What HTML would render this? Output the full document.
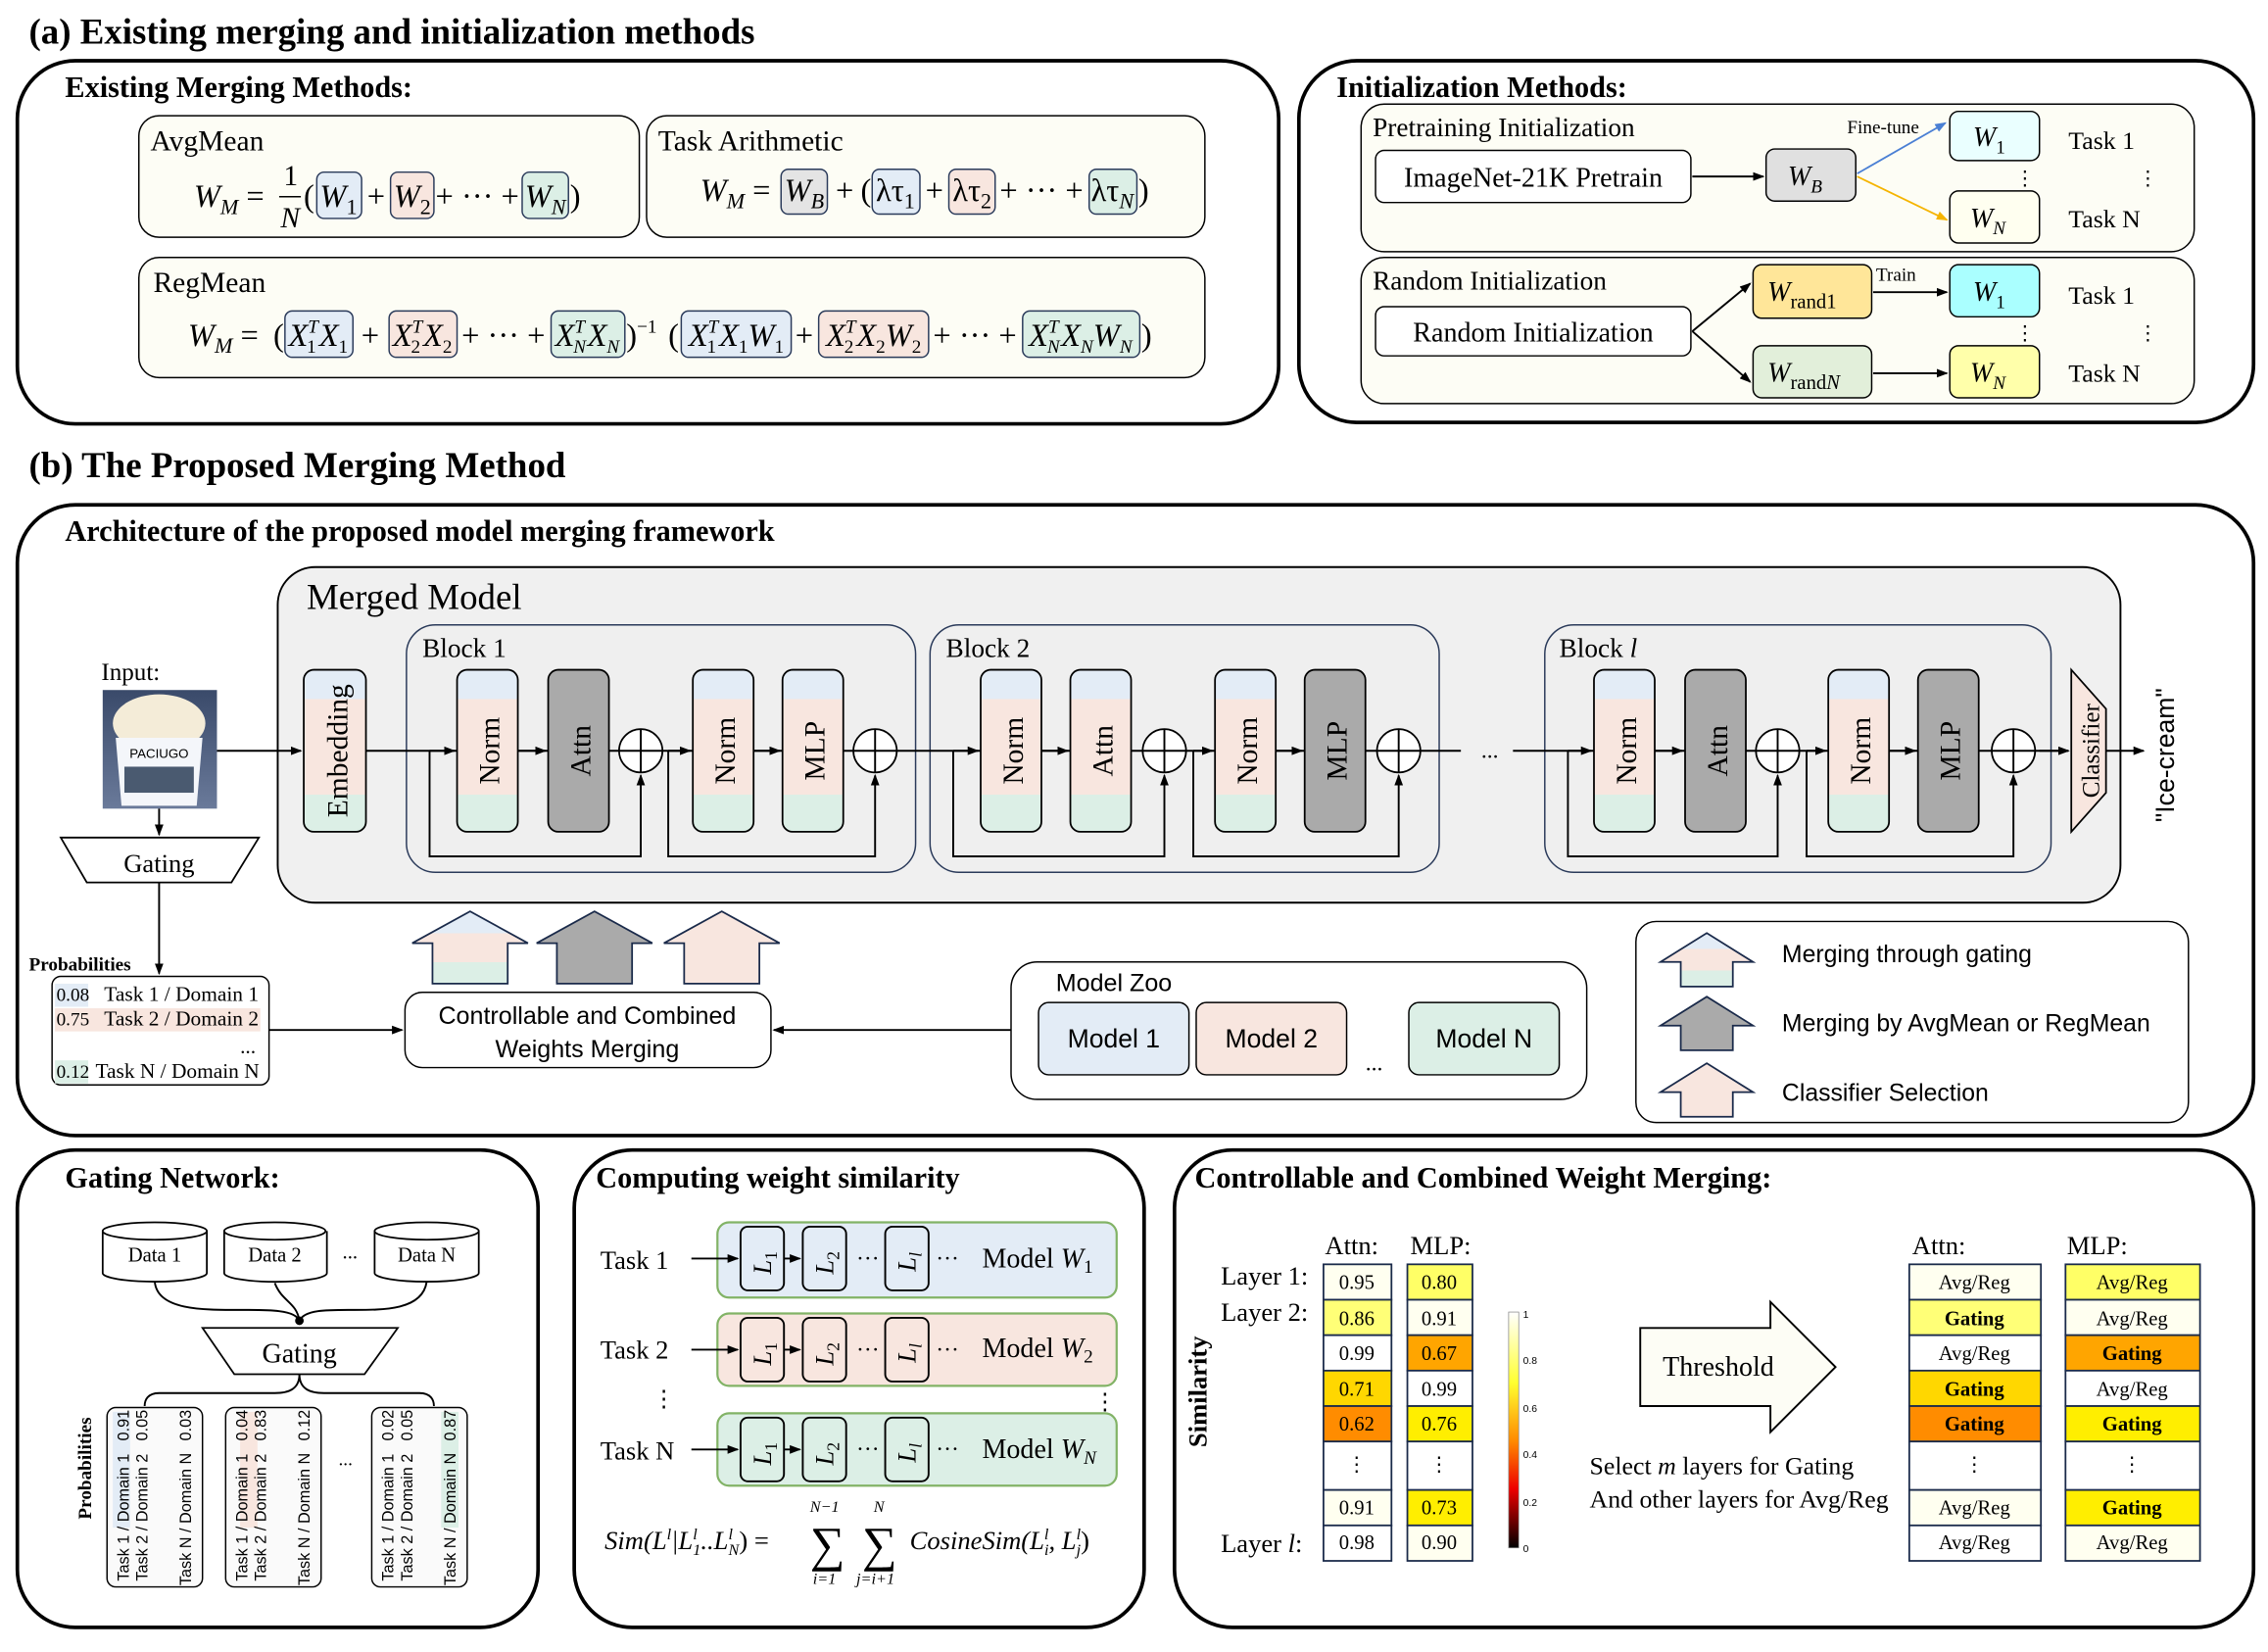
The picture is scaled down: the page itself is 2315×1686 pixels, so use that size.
<!DOCTYPE html>
<html><head><meta charset="utf-8"><style>
html,body{margin:0;padding:0;background:#fff;width:2315px;height:1686px;overflow:hidden}
svg{display:block}
text{font-family:"Liberation Serif",serif;fill:#000}
.b,.b text{font-weight:bold}
.i{font-style:italic}
text.s,.s text{font-family:"Liberation Sans",sans-serif}
.ln{stroke:#000;stroke-width:1.3;fill:none}
</style></head><body>
<svg width="2315" height="1686" viewBox="0 0 1568 1142" preserveAspectRatio="none" xmlns="http://www.w3.org/2000/svg">
<defs>
<marker id="ar" markerWidth="8" markerHeight="8" refX="7" refY="4" orient="auto" markerUnits="userSpaceOnUse"><path d="M0,1 L8,4 L0,7z" fill="#000"/></marker>
<marker id="arb" markerWidth="8" markerHeight="8" refX="7" refY="4" orient="auto" markerUnits="userSpaceOnUse"><path d="M0,1 L8,4 L0,7z" fill="#4a7fd4"/></marker>
<marker id="aro" markerWidth="8" markerHeight="8" refX="7" refY="4" orient="auto" markerUnits="userSpaceOnUse"><path d="M0,1 L8,4 L0,7z" fill="#f5b400"/></marker>
<linearGradient id="tri" x1="0" y1="0" x2="0" y2="1">
<stop offset="0" stop-color="#e3ecf6"/><stop offset="0.18" stop-color="#e3ecf6"/><stop offset="0.18" stop-color="#f8e6df"/><stop offset="0.77" stop-color="#f8e6df"/><stop offset="0.77" stop-color="#dcefe6"/><stop offset="1" stop-color="#dcefe6"/></linearGradient>
<linearGradient id="tri2" x1="0" y1="0" x2="0" y2="1">
<stop offset="0" stop-color="#e3ecf6"/><stop offset="0.3" stop-color="#e3ecf6"/><stop offset="0.3" stop-color="#f8e6df"/><stop offset="0.7" stop-color="#f8e6df"/><stop offset="0.7" stop-color="#dcefe6"/><stop offset="1" stop-color="#dcefe6"/></linearGradient>
<linearGradient id="cb" x1="0" y1="0" x2="0" y2="1">
<stop offset="0" stop-color="#ffffff"/><stop offset="0.3" stop-color="#ffff30"/><stop offset="0.55" stop-color="#ff8800"/><stop offset="0.75" stop-color="#ee0000"/><stop offset="1" stop-color="#000"/></linearGradient>
<linearGradient id="img" x1="0" y1="0" x2="0" y2="1"><stop offset="0" stop-color="#3a4a6a"/><stop offset="1" stop-color="#6a7a9a"/></linearGradient>
</defs>

<!-- (a) -->
<text x="20" y="30" class="b" font-size="25">(a) Existing merging and initialization methods</text>
<rect x="12" y="42" width="872" height="251" rx="40" fill="#fff" stroke="#000" stroke-width="2.5"/>
<text x="45" y="67" class="b" font-size="20.5">Existing Merging Methods:</text>
<rect x="96" y="80" width="346" height="84" rx="14" fill="#fdfdf5" stroke="#000"/>
<text x="104" y="104" font-size="20">AvgMean</text>
<rect x="447" y="80" width="386" height="84" rx="14" fill="#fdfdf5" stroke="#000"/>
<text x="455" y="104" font-size="20">Task Arithmetic</text>
<rect x="96" y="178" width="737" height="83" rx="14" fill="#fdfdf5" stroke="#000"/>
<text x="106" y="202" font-size="20">RegMean</text>
<!-- AvgMean formula -->
<rect x="219" y="119" width="31" height="32" rx="5" fill="#e3ecf6" stroke="#2a3a5a"/>
<rect x="270" y="119" width="30" height="32" rx="5" fill="#f8e6df" stroke="#2a3a5a"/>
<rect x="361" y="119" width="32" height="32" rx="5" fill="#dcefe6" stroke="#2a3a5a"/>
<g font-size="22">
<text x="134" y="143"><tspan class="i">W</tspan><tspan class="i" font-size="15" dy="5">M</tspan><tspan dy="-5"> =</tspan></text>
<text x="196" y="128" font-size="20">1</text><line x1="193" y1="136" x2="208" y2="136" stroke="#000"/><text x="194" y="157" font-size="20" class="i">N</text>
<text x="210" y="143">(</text>
<text x="234" y="143" text-anchor="middle"><tspan class="i">W</tspan><tspan font-size="15" dy="5">1</tspan></text>
<text x="260" y="143" text-anchor="middle">+</text>
<text x="285" y="143" text-anchor="middle"><tspan class="i">W</tspan><tspan font-size="15" dy="5">2</tspan></text>
<text x="330" y="143" text-anchor="middle">+ ··· +</text>
<text x="377" y="143" text-anchor="middle"><tspan class="i">W</tspan><tspan font-size="15" class="i" dy="5">N</tspan></text>
<text x="394" y="143">)</text>
</g>
<!-- Task arithmetic formula -->
<rect x="540" y="117" width="32" height="31" rx="5" fill="#e4e4e4" stroke="#2a3a5a"/>
<rect x="603" y="117" width="33" height="31" rx="5" fill="#e3ecf6" stroke="#2a3a5a"/>
<rect x="656" y="117" width="32" height="31" rx="5" fill="#f8e6df" stroke="#2a3a5a"/>
<rect x="753" y="117" width="33" height="31" rx="5" fill="#dcefe6" stroke="#2a3a5a"/>
<g font-size="22">
<text x="484" y="139"><tspan class="i">W</tspan><tspan class="i" font-size="15" dy="5">M</tspan><tspan dy="-5"> =</tspan></text>
<text x="556" y="139" text-anchor="middle"><tspan class="i">W</tspan><tspan class="i" font-size="15" dy="5">B</tspan></text>
<text x="584" y="139" text-anchor="middle">+</text>
<text x="595" y="139">(</text>
<text x="619" y="139" text-anchor="middle">λτ<tspan font-size="15" dy="5">1</tspan></text>
<text x="646" y="139" text-anchor="middle">+</text>
<text x="672" y="139" text-anchor="middle">λτ<tspan font-size="15" dy="5">2</tspan></text>
<text x="720" y="139" text-anchor="middle">+ ··· +</text>
<text x="769" y="139" text-anchor="middle">λτ<tspan class="i" font-size="15" dy="5">N</tspan></text>
<text x="787" y="139">)</text>
</g>
<!-- RegMean formula -->
<rect x="197" y="215" width="47" height="32" rx="5" fill="#e3ecf6" stroke="#2a3a5a"/>
<rect x="269" y="215" width="47" height="32" rx="5" fill="#f8e6df" stroke="#2a3a5a"/>
<rect x="381" y="215" width="51" height="32" rx="5" fill="#dcefe6" stroke="#2a3a5a"/>
<rect x="471" y="215" width="76" height="32" rx="5" fill="#e3ecf6" stroke="#2a3a5a"/>
<rect x="566" y="215" width="76" height="32" rx="5" fill="#f8e6df" stroke="#2a3a5a"/>
<rect x="707" y="215" width="81" height="32" rx="5" fill="#dcefe6" stroke="#2a3a5a"/>
<g font-size="22">
<text x="130" y="239"><tspan class="i">W</tspan><tspan class="i" font-size="15" dy="5">M</tspan><tspan dy="-5"> =</tspan></text>
<text x="189" y="239">(</text>
<text x="220" y="239" text-anchor="middle"><tspan class="i">X</tspan><tspan class="i" font-size="13" dy="-9">T</tspan><tspan font-size="13" dx="-8" dy="14">1</tspan><tspan class="i" dy="-5" dx="2">X</tspan><tspan font-size="13" dy="5">1</tspan></text>
<text x="256" y="239" text-anchor="middle">+</text>
<text x="292" y="239" text-anchor="middle"><tspan class="i">X</tspan><tspan class="i" font-size="13" dy="-9">T</tspan><tspan font-size="13" dx="-8" dy="14">2</tspan><tspan class="i" dy="-5" dx="2">X</tspan><tspan font-size="13" dy="5">2</tspan></text>
<text x="348" y="239" text-anchor="middle">+ ··· +</text>
<text x="406" y="239" text-anchor="middle"><tspan class="i">X</tspan><tspan class="i" font-size="13" dy="-9">T</tspan><tspan class="i" font-size="13" dx="-8" dy="14">N</tspan><tspan class="i" dy="-5" dx="1">X</tspan><tspan class="i" font-size="13" dy="5">N</tspan></text>
<text x="433" y="239">)<tspan font-size="13" dy="-9">−1</tspan></text>
<text x="462" y="239">(</text>
<text x="509" y="239" text-anchor="middle"><tspan class="i">X</tspan><tspan class="i" font-size="13" dy="-9">T</tspan><tspan font-size="13" dx="-8" dy="14">1</tspan><tspan class="i" dy="-5" dx="2">X</tspan><tspan font-size="13" dy="5">1</tspan><tspan class="i" dy="-5">W</tspan><tspan font-size="13" dy="5">1</tspan></text>
<text x="556" y="239" text-anchor="middle">+</text>
<text x="604" y="239" text-anchor="middle"><tspan class="i">X</tspan><tspan class="i" font-size="13" dy="-9">T</tspan><tspan font-size="13" dx="-8" dy="14">2</tspan><tspan class="i" dy="-5" dx="2">X</tspan><tspan font-size="13" dy="5">2</tspan><tspan class="i" dy="-5">W</tspan><tspan font-size="13" dy="5">2</tspan></text>
<text x="674" y="239" text-anchor="middle">+ ··· +</text>
<text x="747" y="239" text-anchor="middle"><tspan class="i">X</tspan><tspan class="i" font-size="13" dy="-9">T</tspan><tspan class="i" font-size="13" dx="-8" dy="14">N</tspan><tspan class="i" dy="-5" dx="1">X</tspan><tspan class="i" font-size="13" dy="5">N</tspan><tspan class="i" dy="-5">W</tspan><tspan class="i" font-size="13" dy="5">N</tspan></text>
<text x="789" y="239">)</text>
</g>

<!-- Init -->
<rect x="898" y="42" width="660" height="250" rx="40" fill="#fff" stroke="#000" stroke-width="2.5"/>
<text x="924" y="67" class="b" font-size="20.5">Initialization Methods:</text>
<rect x="941" y="72" width="576" height="102" rx="16" fill="#fdfdf5" stroke="#000"/>
<text x="949" y="94" font-size="18.5">Pretraining Initialization</text>
<rect x="951" y="104" width="218" height="36" rx="6" fill="#fff" stroke="#000"/>
<text x="1060" y="129" font-size="19" text-anchor="middle">ImageNet-21K Pretrain</text>
<line x1="1170" y1="122" x2="1219" y2="122" class="ln" stroke-width="1.8" marker-end="url(#ar)"/>
<rect x="1221" y="103" width="62" height="36" rx="6" fill="#e0e0e0" stroke="#000"/>
<text x="1236" y="128" class="i" font-size="19">W<tspan font-size="13" dy="5">B</tspan></text>
<text x="1277" y="92" font-size="13">Fine-tune</text>
<line x1="1284" y1="120" x2="1345" y2="85" stroke="#4a7fd4" stroke-width="1.2" marker-end="url(#arb)"/>
<line x1="1284" y1="122" x2="1346" y2="152" stroke="#f5b400" stroke-width="1.2" marker-end="url(#aro)"/>
<rect x="1348" y="77" width="62" height="34" rx="6" fill="#eaffff" stroke="#000"/>
<text x="1364" y="101" class="i" font-size="19">W<tspan font-size="13" dy="5" font-style="normal">1</tspan></text>
<rect x="1348" y="132" width="62" height="36" rx="6" fill="#fffff0" stroke="#000"/>
<text x="1362" y="157" class="i" font-size="19">W<tspan font-size="13" dy="5">N</tspan></text>
<text x="1430" y="103" font-size="17.5">Task 1</text><text x="1430" y="157" font-size="17.5">Task N</text>
<text x="1393" y="128" font-size="14">⋮</text><text x="1478" y="128" font-size="14">⋮</text>

<rect x="941" y="178" width="576" height="101" rx="16" fill="#fdfdf5" stroke="#000"/>
<text x="949" y="200" font-size="18.5">Random Initialization</text>
<rect x="951" y="212" width="218" height="34" rx="6" fill="#fff" stroke="#000"/>
<text x="1060" y="236" font-size="19" text-anchor="middle">Random Initialization</text>
<line x1="1170" y1="229" x2="1210" y2="196" class="ln" marker-end="url(#ar)"/>
<line x1="1170" y1="229" x2="1210" y2="264" class="ln" marker-end="url(#ar)"/>
<rect x="1212" y="183" width="82" height="37" rx="6" fill="#ffe699" stroke="#000"/>
<text x="1222" y="208" class="i" font-size="19">W<tspan font-size="14" dy="5" font-style="normal">rand1</tspan></text>
<rect x="1212" y="239" width="82" height="36" rx="6" fill="#e2efda" stroke="#000"/>
<text x="1222" y="264" class="i" font-size="19">W<tspan font-size="14" dy="5" font-style="normal">rand</tspan><tspan font-size="14">N</tspan></text>
<text x="1297" y="194" font-size="13">Train</text>
<line x1="1295" y1="202" x2="1346" y2="202" class="ln" stroke-width="1.8" marker-end="url(#ar)"/>
<line x1="1295" y1="258" x2="1346" y2="258" class="ln" stroke-width="1.8" marker-end="url(#ar)"/>
<rect x="1348" y="183" width="62" height="36" rx="6" fill="#aaffff" stroke="#000"/>
<text x="1364" y="208" class="i" font-size="19">W<tspan font-size="13" dy="5" font-style="normal">1</tspan></text>
<rect x="1348" y="239" width="62" height="36" rx="6" fill="#ffffaa" stroke="#000"/>
<text x="1362" y="264" class="i" font-size="19">W<tspan font-size="13" dy="5">N</tspan></text>
<text x="1430" y="210" font-size="17.5">Task 1</text><text x="1430" y="264" font-size="17.5">Task N</text>
<text x="1393" y="235" font-size="14">⋮</text><text x="1478" y="235" font-size="14">⋮</text>

<!-- (b) -->
<text x="20" y="330" class="b" font-size="25">(b) The Proposed Merging Method</text>
<rect x="12" y="349" width="1546" height="436" rx="40" fill="#fff" stroke="#000" stroke-width="2.5"/>
<text x="45" y="374" class="b" font-size="20.5">Architecture of the proposed model merging framework</text>
<rect x="192" y="392" width="1274" height="232" rx="26" fill="#f0f0f0" stroke="#000" stroke-width="1.3"/>
<text x="212" y="421" font-size="25">Merged Model</text>
<rect x="281" y="432" width="352" height="171" rx="20" fill="#efefef" stroke="#2a3a5a"/>
<text x="292" y="454" font-size="18.5">Block 1</text>
<rect x="643" y="432" width="352" height="171" rx="20" fill="#efefef" stroke="#2a3a5a"/>
<text x="654" y="454" font-size="18.5">Block 2</text>
<rect x="1068" y="432" width="350" height="171" rx="20" fill="#efefef" stroke="#2a3a5a"/>
<text x="1078" y="454" font-size="18.5">Block <tspan class="i">l</tspan></text>

<!-- main line -->
<line x1="150" y1="519" x2="208" y2="519" class="ln" marker-end="url(#ar)"/>
<line x1="253" y1="519" x2="1010" y2="519" class="ln"/>
<text x="1024" y="524" font-size="16">...</text>
<line x1="1046" y1="519" x2="1430" y2="519" class="ln"/>
<line x1="1456" y1="519" x2="1482" y2="519" class="ln" marker-end="url(#ar)"/>

<!-- modules -->
<g stroke="#000" stroke-width="1.2">
<rect x="210" y="463" width="43" height="112" rx="7" fill="url(#tri)"/>
<rect x="316" y="463" width="42" height="112" rx="7" fill="url(#tri)"/>
<rect x="379" y="463" width="42" height="112" rx="7" fill="#aaaaaa"/>
<rect x="479" y="463" width="42" height="112" rx="7" fill="url(#tri)"/>
<rect x="541" y="463" width="42" height="112" rx="7" fill="url(#tri)"/>
<rect x="678" y="463" width="42" height="112" rx="7" fill="url(#tri)"/>
<rect x="740" y="463" width="42" height="112" rx="7" fill="url(#tri)"/>
<rect x="840" y="463" width="42" height="112" rx="7" fill="url(#tri)"/>
<rect x="902" y="463" width="42" height="112" rx="7" fill="#aaaaaa"/>
<rect x="1102" y="463" width="42" height="112" rx="7" fill="url(#tri)"/>
<rect x="1165" y="463" width="42" height="112" rx="7" fill="#aaaaaa"/>
<rect x="1264" y="463" width="42" height="112" rx="7" fill="url(#tri)"/>
<rect x="1326" y="463" width="42" height="112" rx="7" fill="#aaaaaa"/>
<polygon points="1432,463 1456,490 1456,548 1432,575" fill="#f8e6df"/>
</g>
<g font-size="20">
<text transform="translate(240,519) rotate(-90)" text-anchor="middle">Embedding</text>
<text transform="translate(345,519) rotate(-90)" text-anchor="middle">Norm</text>
<text transform="translate(408,519) rotate(-90)" text-anchor="middle">Attn</text>
<text transform="translate(508,519) rotate(-90)" text-anchor="middle">Norm</text>
<text transform="translate(570,519) rotate(-90)" text-anchor="middle">MLP</text>
<text transform="translate(707,519) rotate(-90)" text-anchor="middle">Norm</text>
<text transform="translate(769,519) rotate(-90)" text-anchor="middle">Attn</text>
<text transform="translate(869,519) rotate(-90)" text-anchor="middle">Norm</text>
<text transform="translate(931,519) rotate(-90)" text-anchor="middle">MLP</text>
<text transform="translate(1131,519) rotate(-90)" text-anchor="middle">Norm</text>
<text transform="translate(1194,519) rotate(-90)" text-anchor="middle">Attn</text>
<text transform="translate(1293,519) rotate(-90)" text-anchor="middle">Norm</text>
<text transform="translate(1355,519) rotate(-90)" text-anchor="middle">MLP</text>
<text transform="translate(1451,519) rotate(-90)" text-anchor="middle" font-size="17">Classifier</text>
<text transform="translate(1503,522) rotate(-90)" text-anchor="middle" class="s" font-size="18">"Ice-cream"</text>
</g>
<!-- plus circles & residuals -->
<g fill="#fff" stroke="#000" stroke-width="1.2">
<circle cx="443" cy="519" r="15"/><circle cx="605" cy="519" r="15"/>
<circle cx="805" cy="519" r="15"/><circle cx="967" cy="519" r="15"/>
<circle cx="1229" cy="519" r="15"/><circle cx="1392" cy="519" r="15"/>
</g>
<g class="ln">
<path d="M428,519H458M443,504V534M590,519H620M605,504V534M790,519H820M805,504V534M952,519H982M967,504V534M1214,519H1244M1229,504V534M1377,519H1407M1392,504V534"/>
<path d="M297,519V592H443V536" marker-end="url(#ar)"/>
<path d="M462,519V592H605V536" marker-end="url(#ar)"/>
<path d="M659,519V592H805V536" marker-end="url(#ar)"/>
<path d="M825,519V592H967V536" marker-end="url(#ar)"/>
<path d="M1084,519V592H1229V536" marker-end="url(#ar)"/>
<path d="M1249,519V592H1392V536" marker-end="url(#ar)"/>
</g>
<g class="ln">
<line x1="297" y1="519" x2="314" y2="519" marker-end="url(#ar)"/>
<line x1="358" y1="519" x2="377" y2="519" marker-end="url(#ar)"/>
<line x1="462" y1="519" x2="477" y2="519" marker-end="url(#ar)"/>
<line x1="521" y1="519" x2="539" y2="519" marker-end="url(#ar)"/>
<line x1="659" y1="519" x2="676" y2="519" marker-end="url(#ar)"/>
<line x1="720" y1="519" x2="738" y2="519" marker-end="url(#ar)"/>
<line x1="825" y1="519" x2="838" y2="519" marker-end="url(#ar)"/>
<line x1="882" y1="519" x2="900" y2="519" marker-end="url(#ar)"/>
<line x1="1084" y1="519" x2="1100" y2="519" marker-end="url(#ar)"/>
<line x1="1144" y1="519" x2="1163" y2="519" marker-end="url(#ar)"/>
<line x1="1249" y1="519" x2="1262" y2="519" marker-end="url(#ar)"/>
<line x1="1306" y1="519" x2="1324" y2="519" marker-end="url(#ar)"/>
<line x1="1410" y1="519" x2="1430" y2="519" marker-end="url(#ar)"/>
</g>

<!-- input -->
<text x="70" y="470" font-size="17">Input:</text>
<rect x="71" y="477" width="79" height="82" fill="url(#img)"/>
<ellipse cx="110" cy="500" rx="32" ry="20" fill="#f4ecd8"/>
<path d="M80,510 L140,510 L136,557 L84,557Z" fill="#f4f6fa"/>
<text x="110" y="524" font-size="9" text-anchor="middle" class="s" fill="#234">PACIUGO</text>
<rect x="86" y="530" width="48" height="18" fill="#4a5a70"/>
<line x1="110" y1="559" x2="110" y2="577" class="ln" marker-end="url(#ar)"/>
<polygon points="42,579 179,579 160,610 60,610" fill="#fff" stroke="#000" stroke-width="1.2"/>
<text x="110" y="603" font-size="18" text-anchor="middle">Gating</text>
<line x1="110" y1="610" x2="110" y2="673" class="ln" marker-end="url(#ar)"/>
<text x="20" y="671" class="b" font-size="13">Probabilities</text>
<rect x="36" y="675" width="150" height="75" rx="6" fill="#fff" stroke="#000"/>
<rect x="38" y="680" width="23" height="16" fill="#e3ecf6"/>
<rect x="38" y="697" width="142" height="16" fill="#f8e6df"/>
<rect x="38" y="733" width="23" height="16" fill="#dcefe6"/>
<g font-size="14.5"><text x="39" y="692" font-size="13">0.08</text><text x="72" y="692">Task 1 / Domain 1</text>
<text x="39" y="709" font-size="13">0.75</text><text x="72" y="709">Task 2 / Domain 2</text>
<text x="166" y="728">...</text>
<text x="39" y="745" font-size="13">0.12</text><text x="66" y="745">Task N / Domain N</text></g>
<line x1="186" y1="712" x2="278" y2="712" class="ln" marker-end="url(#ar)"/>
<rect x="280" y="686" width="253" height="52" rx="12" fill="#fff" stroke="#000"/>
<text x="406" y="708" font-size="17" text-anchor="middle" class="s">Controllable and Combined</text>
<text x="406" y="731" font-size="17" text-anchor="middle" class="s">Weights Merging</text>
<line x1="699" y1="712" x2="535" y2="712" class="ln" marker-end="url(#ar)"/>
<!-- up arrows -->
<g stroke="#1a2a4a" stroke-width="1.2">
<polygon points="299,680 299,652 285,652 325,630 365,652 351,652 351,680" fill="url(#tri2)"/>
<polygon points="385,680 385,652 371,652 411,630 451,652 437,652 437,680" fill="#aaaaaa"/>
<polygon points="473,680 473,652 459,652 499,630 539,652 525,652 525,680" fill="#f8e6df"/>
</g>
<!-- model zoo -->
<rect x="699" y="665" width="398" height="95" rx="18" fill="#fff" stroke="#000"/>
<text x="730" y="685" font-size="17" class="s">Model Zoo</text>
<rect x="718" y="693" width="104" height="50" rx="7" fill="#e3ecf6" stroke="#000"/>
<rect x="827" y="693" width="104" height="50" rx="7" fill="#f8e6df" stroke="#000"/>
<rect x="974" y="693" width="104" height="50" rx="7" fill="#dcefe6" stroke="#000"/>
<g font-size="18" class="s" text-anchor="middle"><text x="770" y="724">Model 1</text><text x="879" y="724">Model 2</text><text x="1026" y="724">Model N</text></g>
<text x="944" y="740" font-size="16">...</text>
<!-- legend -->
<rect x="1131" y="637" width="382" height="139" rx="14" fill="#fff" stroke="#000"/>
<g stroke="#1a2a4a" stroke-width="1.2">
<polygon points="1162,682 1162,665 1148,665 1180,645 1212,665 1198,665 1198,682" fill="url(#tri2)"/>
<polygon points="1162,726 1162,709 1148,709 1180,689 1212,709 1198,709 1198,726" fill="#aaaaaa"/>
<polygon points="1162,772 1162,755 1148,755 1180,735 1212,755 1198,755 1198,772" fill="#f8e6df"/>
</g>
<g font-size="16.8" class="s"><text x="1232" y="665">Merging through gating</text><text x="1232" y="713">Merging by AvgMean or RegMean</text><text x="1232" y="761">Classifier Selection</text></g>

<!-- Gating network -->
<rect x="12" y="795" width="360" height="330" rx="40" fill="#fff" stroke="#000" stroke-width="2.5"/>
<text x="45" y="821" class="b" font-size="20.5">Gating Network:</text>
<g fill="#fff" stroke="#000" stroke-width="1.2">
<path d="M71,851V880A36,6 0 0 0 143,880V851"/><ellipse cx="107" cy="851" rx="36" ry="6"/>
<path d="M155,851V880A35,6 0 0 0 226,880V851"/><ellipse cx="190" cy="851" rx="35" ry="6"/>
<path d="M259,851V880A36,6 0 0 0 331,880V851"/><ellipse cx="295" cy="851" rx="36" ry="6"/>
</g>
<g font-size="14" text-anchor="middle"><text x="107" y="872">Data 1</text><text x="190" y="872">Data 2</text><text x="295" y="872">Data N</text><text x="242" y="870">...</text></g>
<path class="ln" d="M107,886C110,920 200,895 207,913M190,887C195,900 205,900 207,913M295,886C290,920 215,895 207,913"/>
<circle cx="207" cy="913" r="3"/>
<polygon points="140,918 275,918 252,950 162,950" fill="#fff" stroke="#000" stroke-width="1.2"/>
<text x="207" y="942" font-size="19" text-anchor="middle">Gating</text>
<path class="ln" d="M207,950C207,960 200,963 190,963H110C102,963 100,968 100,972M207,950C207,960 214,963 224,963H290C298,963 300,968 300,972"/>
<text transform="translate(63,1015) rotate(-90)" text-anchor="middle" class="b" font-size="13">Probabilities</text>
<g stroke="#000" stroke-width="1"><rect x="74" y="973" width="66" height="124" rx="6" fill="#fafafa"/><rect x="156" y="973" width="66" height="124" rx="6" fill="#fafafa"/><rect x="257" y="973" width="66" height="124" rx="6" fill="#fafafa"/></g>
<rect x="78" y="976" width="12" height="80" fill="#e3ecf6"/><rect x="166" y="976" width="12" height="80" fill="#f8e6df"/><rect x="305" y="976" width="12" height="80" fill="#dcefe6"/>
<g font-size="11" class="s">
<text transform="translate(89,1093) rotate(-90)">Task 1 / Domain 1</text><text transform="translate(102,1093) rotate(-90)">Task 2 / Domain 2</text><text transform="translate(132,1096) rotate(-90)">Task N / Domain N</text>
<text transform="translate(89,996) rotate(-90)">0.91</text><text transform="translate(102,996) rotate(-90)">0.05</text><text transform="translate(132,996) rotate(-90)">0.03</text>
<text transform="translate(171,1093) rotate(-90)">Task 1 / Domain 1</text><text transform="translate(184,1093) rotate(-90)">Task 2 / Domain 2</text><text transform="translate(214,1096) rotate(-90)">Task N / Domain N</text>
<text transform="translate(171,996) rotate(-90)">0.04</text><text transform="translate(184,996) rotate(-90)">0.83</text><text transform="translate(214,996) rotate(-90)">0.12</text>
<text transform="translate(272,1093) rotate(-90)">Task 1 / Domain 1</text><text transform="translate(285,1093) rotate(-90)">Task 2 / Domain 2</text><text transform="translate(315,1096) rotate(-90)">Task N / Domain N</text>
<text transform="translate(272,996) rotate(-90)">0.02</text><text transform="translate(285,996) rotate(-90)">0.05</text><text transform="translate(315,996) rotate(-90)">0.87</text>
</g>
<text x="234" y="1013" font-size="13">...</text>

<!-- Computing weight similarity -->
<rect x="397" y="795" width="394" height="330" rx="40" fill="#fff" stroke="#000" stroke-width="2.5"/>
<text x="412" y="821" class="b" font-size="20.5">Computing weight similarity</text>
<g stroke="#82b366" stroke-width="1.5">
<rect x="496" y="845" width="276" height="52" rx="8" fill="#e3ecf6"/>
<rect x="496" y="908" width="276" height="50" rx="8" fill="#f8e6df"/>
<rect x="496" y="977" width="276" height="50" rx="8" fill="#dcefe6"/>
</g>
<g font-size="18"><text x="415" y="877">Task 1</text><text x="415" y="939">Task 2</text><text x="415" y="1009">Task N</text></g>
<text x="451" y="972" font-size="16">⋮</text><text x="756" y="974" font-size="16">⋮</text>
<g class="ln"><line x1="478" y1="870" x2="510" y2="870" marker-end="url(#ar)"/><line x1="478" y1="933" x2="510" y2="933" marker-end="url(#ar)"/><line x1="478" y1="1002" x2="510" y2="1002" marker-end="url(#ar)"/>
<line x1="542" y1="870" x2="553" y2="870" marker-end="url(#ar)"/><line x1="542" y1="933" x2="553" y2="933" marker-end="url(#ar)"/><line x1="542" y1="1002" x2="553" y2="1002" marker-end="url(#ar)"/></g>
<g fill="none" stroke="#000" stroke-width="1.3">
<rect x="512" y="848" width="30" height="44" rx="5"/><rect x="555" y="848" width="30" height="44" rx="5"/><rect x="612" y="848" width="30" height="44" rx="5"/>
<rect x="512" y="911" width="30" height="44" rx="5"/><rect x="555" y="911" width="30" height="44" rx="5"/><rect x="612" y="911" width="30" height="44" rx="5"/>
<rect x="512" y="980" width="30" height="44" rx="5"/><rect x="555" y="980" width="30" height="44" rx="5"/><rect x="612" y="980" width="30" height="44" rx="5"/>
</g>
<g font-size="18" class="i">
<text transform="translate(533,881) rotate(-90)">L<tspan font-size="12" dy="4" font-style="normal">1</tspan></text><text transform="translate(576,881) rotate(-90)">L<tspan font-size="12" dy="4" font-style="normal">2</tspan></text><text transform="translate(633,879) rotate(-90)">L<tspan font-size="12" dy="4">l</tspan></text>
<text transform="translate(533,944) rotate(-90)">L<tspan font-size="12" dy="4" font-style="normal">1</tspan></text><text transform="translate(576,944) rotate(-90)">L<tspan font-size="12" dy="4" font-style="normal">2</tspan></text><text transform="translate(633,942) rotate(-90)">L<tspan font-size="12" dy="4">l</tspan></text>
<text transform="translate(533,1013) rotate(-90)">L<tspan font-size="12" dy="4" font-style="normal">1</tspan></text><text transform="translate(576,1013) rotate(-90)">L<tspan font-size="12" dy="4" font-style="normal">2</tspan></text><text transform="translate(633,1011) rotate(-90)">L<tspan font-size="12" dy="4">l</tspan></text>
</g>
<g font-size="16"><text x="592" y="875">···</text><text x="647" y="875">···</text><text x="592" y="938">···</text><text x="647" y="938">···</text><text x="592" y="1007">···</text><text x="647" y="1007">···</text></g>
<g font-size="19"><text x="679" y="876">Model <tspan class="i">W</tspan><tspan font-size="13" dy="4">1</tspan></text><text x="679" y="938">Model <tspan class="i">W</tspan><tspan font-size="13" dy="4">2</tspan></text><text x="679" y="1008">Model <tspan class="i">W</tspan><tspan font-size="13" dy="4" class="i">N</tspan></text></g>
<text x="418" y="1071" font-size="18" class="i">Sim(L<tspan font-size="11" dy="-7">l</tspan><tspan dy="7">|L</tspan><tspan font-size="11" dy="-7">l</tspan><tspan font-size="11" dx="-3" dy="11">1</tspan><tspan dy="-4">..L</tspan><tspan font-size="11" dy="-7">l</tspan><tspan font-size="11" dx="-3" dy="11">N</tspan><tspan dy="-4" font-style="normal">) =</tspan></text>
<text x="560" y="1079" font-size="34">∑</text><text x="596" y="1079" font-size="34">∑</text>
<g font-size="11" class="i"><text x="560" y="1045">N−1</text><text x="604" y="1045">N</text><text x="562" y="1095">i=1</text><text x="592" y="1095">j=i+1</text></g>
<text x="629" y="1071" font-size="18" class="i">CosineSim(L<tspan font-size="11" dy="-7">l</tspan><tspan font-size="11" dx="-3" dy="11">i</tspan><tspan dy="-4">, L</tspan><tspan font-size="11" dy="-7">l</tspan><tspan font-size="11" dx="-3" dy="11">j</tspan><tspan dy="-4" font-style="normal">)</tspan></text>

<!-- Controllable weight merging -->
<rect x="812" y="795" width="746" height="330" rx="40" fill="#fff" stroke="#000" stroke-width="2.5"/>
<text x="826" y="821" class="b" font-size="20.5">Controllable and Combined Weight Merging:</text>
<text transform="translate(834,962) rotate(-90)" text-anchor="middle" class="b" font-size="18">Similarity</text>
<g font-size="18"><text x="916" y="867">Attn:</text><text x="975" y="867">MLP:</text><text x="1322" y="867">Attn:</text><text x="1429" y="867">MLP:</text>
<text x="844" y="888">Layer 1:</text><text x="844" y="913">Layer 2:</text><text x="844" y="1073">Layer <tspan class="i">l</tspan>:</text></g>
<g stroke="#1a2a4a" stroke-width="1.2">
<rect x="915" y="874" width="47" height="24.5" fill="#fffff0"/><rect x="915" y="898.5" width="47" height="24.5" fill="#ffff77"/><rect x="915" y="923" width="47" height="24.5" fill="#fff"/><rect x="915" y="947.5" width="47" height="24.5" fill="#ffd700"/><rect x="915" y="972" width="47" height="24.5" fill="#ff8c00"/><rect x="915" y="996.5" width="47" height="33.5" fill="#fff"/><rect x="915" y="1030" width="47" height="24.5" fill="#fffff0"/><rect x="915" y="1054.5" width="47" height="24.5" fill="#fff"/>
<rect x="973" y="874" width="45" height="24.5" fill="#ffff66"/><rect x="973" y="898.5" width="45" height="24.5" fill="#fffff0"/><rect x="973" y="923" width="45" height="24.5" fill="#ffa500"/><rect x="973" y="947.5" width="45" height="24.5" fill="#fff"/><rect x="973" y="972" width="45" height="24.5" fill="#ffee00"/><rect x="973" y="996.5" width="45" height="33.5" fill="#fff"/><rect x="973" y="1030" width="45" height="24.5" fill="#ffee00"/><rect x="973" y="1054.5" width="45" height="24.5" fill="#fffff0"/>
<rect x="1320" y="874" width="91" height="24.5" fill="#fffff0"/><rect x="1320" y="898.5" width="91" height="24.5" fill="#ffff77"/><rect x="1320" y="923" width="91" height="24.5" fill="#fff"/><rect x="1320" y="947.5" width="91" height="24.5" fill="#ffd700"/><rect x="1320" y="972" width="91" height="24.5" fill="#ff8c00"/><rect x="1320" y="996.5" width="91" height="33.5" fill="#fff"/><rect x="1320" y="1030" width="91" height="24.5" fill="#fffff0"/><rect x="1320" y="1054.5" width="91" height="24.5" fill="#fff"/>
<rect x="1428" y="874" width="93" height="24.5" fill="#ffff66"/><rect x="1428" y="898.5" width="93" height="24.5" fill="#fffff0"/><rect x="1428" y="923" width="93" height="24.5" fill="#ffa500"/><rect x="1428" y="947.5" width="93" height="24.5" fill="#fff"/><rect x="1428" y="972" width="93" height="24.5" fill="#ffee00"/><rect x="1428" y="996.5" width="93" height="33.5" fill="#fff"/><rect x="1428" y="1030" width="93" height="24.5" fill="#ffee00"/><rect x="1428" y="1054.5" width="93" height="24.5" fill="#fffff0"/>
</g>
<g font-size="14" text-anchor="middle">
<text x="938" y="891">0.95</text><text x="938" y="916">0.86</text><text x="938" y="940">0.99</text><text x="938" y="965">0.71</text><text x="938" y="989">0.62</text><text x="938" y="1017">⋮</text><text x="938" y="1047">0.91</text><text x="938" y="1071">0.98</text>
<text x="995" y="891">0.80</text><text x="995" y="916">0.91</text><text x="995" y="940">0.67</text><text x="995" y="965">0.99</text><text x="995" y="989">0.76</text><text x="995" y="1017">⋮</text><text x="995" y="1047">0.73</text><text x="995" y="1071">0.90</text>
<text x="1365" y="891">Avg/Reg</text><text x="1365" y="916" class="b">Gating</text><text x="1365" y="940">Avg/Reg</text><text x="1365" y="965" class="b">Gating</text><text x="1365" y="989" class="b">Gating</text><text x="1365" y="1017">⋮</text><text x="1365" y="1047">Avg/Reg</text><text x="1365" y="1071">Avg/Reg</text>
<text x="1474" y="891">Avg/Reg</text><text x="1474" y="916">Avg/Reg</text><text x="1474" y="940" class="b">Gating</text><text x="1474" y="965">Avg/Reg</text><text x="1474" y="989" class="b">Gating</text><text x="1474" y="1017">⋮</text><text x="1474" y="1047" class="b">Gating</text><text x="1474" y="1071">Avg/Reg</text>
</g>
<rect x="1043" y="907" width="7" height="163" fill="url(#cb)" stroke="#888" stroke-width="0.5"/>
<g font-size="7" class="s"><text x="1053" y="911">1</text><text x="1053" y="943">0.8</text><text x="1053" y="976">0.6</text><text x="1053" y="1008">0.4</text><text x="1053" y="1041">0.2</text><text x="1053" y="1073">0</text></g>
<polygon points="1134,918 1224,918 1224,900 1269,945 1224,990 1224,972 1134,972" fill="#fdfdf5" stroke="#000" stroke-width="1.3"/>
<text x="1188" y="951" font-size="19" text-anchor="middle">Threshold</text>
<g font-size="17.5"><text x="1099" y="1019">Select <tspan class="i">m</tspan> layers for Gating</text><text x="1099" y="1042">And other layers for Avg/Reg</text></g>
</svg>
</body></html>
